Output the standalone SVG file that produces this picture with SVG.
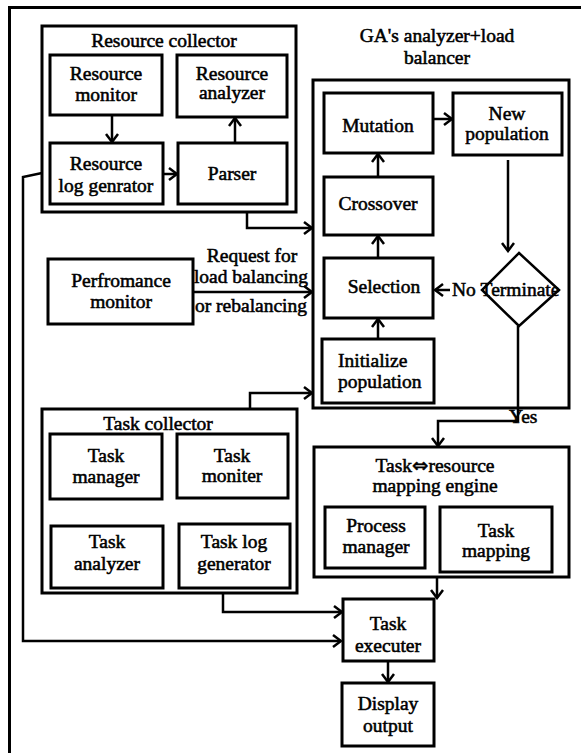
<svg xmlns="http://www.w3.org/2000/svg" width="581" height="753" viewBox="0 0 581 753">
<defs>
<style>
.b{fill:#fff;stroke:#000;stroke-width:3}
.c{fill:none;stroke:#000;stroke-width:2.5}
text{font-family:'Liberation Serif','Times New Roman',Tinos,'DejaVu Serif',serif;font-size:19.5px;fill:#000;stroke:#000;stroke-width:0.55px;text-anchor:middle}
.t{font-size:19.5px}
</style>
<marker id="a" markerUnits="userSpaceOnUse" markerWidth="12" markerHeight="14" viewBox="-10 -7 12 14" refX="0" refY="0" orient="auto">
<path d="M-8,-6 L0,0 L-8,6" fill="none" stroke="#000" stroke-width="2.5"/>
</marker>
</defs>
<rect width="581" height="753" fill="#fff"/>
<g id="frame">
<path d="M9.5,753 V7.5 H581" fill="none" stroke="#000" stroke-width="3"/>
</g>
<g font-family="Liberation Serif, serif">
<g id="resource-collector">
<rect class="b" x="42" y="26" width="254" height="186"/>
<text class="t" x="164" y="47">Resource collector</text>
</g>
<g id="resource-monitor">
<rect class="b" x="50" y="55" width="112" height="60"/>
<text x="106" y="80">Resource</text><text x="106" y="101">monitor</text>
</g>
<g id="resource-analyzer">
<rect class="b" x="177" y="55" width="110" height="62"/>
<text x="232" y="80">Resource</text><text x="232" y="99">analyzer</text>
</g>
<g id="resource-log">
<rect class="b" x="50" y="143" width="113" height="61"/>
<text x="106" y="170">Resource</text><text x="106" y="192">log genrator</text>
</g>
<g id="parser">
<rect class="b" x="178" y="143" width="109" height="61"/>
<text x="232" y="180">Parser</text>
</g>
<g id="ga">
<text class="t" x="437" y="42">GA's analyzer+load</text>
<text class="t" x="437" y="64">balancer</text>
<rect class="b" x="313" y="80" width="256" height="328"/>
</g>
<g id="mutation">
<rect class="b" x="324" y="93" width="109" height="60"/>
<text x="378" y="132">Mutation</text>
</g>
<g id="new-population">
<rect class="b" x="453" y="93" width="109" height="62"/>
<text x="507" y="120">New</text><text x="507" y="140">population</text>
</g>
<g id="crossover">
<rect class="b" x="324" y="177" width="109" height="58"/>
<text x="378" y="210">Crossover</text>
</g>
<g id="selection">
<rect class="b" x="324" y="258" width="109" height="60"/>
<text x="384" y="293">Selection</text>
</g>
<g id="initialize">
<rect class="b" x="322" y="339" width="112" height="64"/>
<text x="338" y="367" style="text-anchor:start">Initialize</text><text x="338" y="388" style="text-anchor:start">population</text>
</g>
<g id="terminate">
<polygon points="519,253 559,290 519,326 482,290" fill="#fff" stroke="#000" stroke-width="2.5"/>
<text x="520" y="296">Terminate</text>
</g>
<g id="performance-monitor">
<rect class="b" x="48" y="259" width="145" height="65"/>
<text x="121" y="287">Perfromance</text><text x="121" y="308">monitor</text>
</g>
<g id="task-collector">
<rect class="b" x="42" y="409" width="255" height="184"/>
<text class="t" x="158" y="430">Task collector</text>
</g>
<g id="task-manager">
<rect class="b" x="50" y="434" width="112" height="65"/>
<text x="106" y="462">Task</text><text x="106" y="483">manager</text>
</g>
<g id="task-moniter">
<rect class="b" x="177" y="434" width="111" height="64"/>
<text x="232" y="462">Task</text><text x="232" y="482">moniter</text>
</g>
<g id="task-analyzer">
<rect class="b" x="51" y="526" width="112" height="62"/>
<text x="107" y="548">Task</text><text x="107" y="570">analyzer</text>
</g>
<g id="task-log">
<rect class="b" x="179" y="524" width="111" height="64"/>
<text x="234" y="548">Task log</text><text x="234" y="570">generator</text>
</g>
<g id="mapping-engine">
<rect class="b" x="314" y="447" width="255" height="130"/>
<text class="t" x="435" y="472">Task<tspan style="font-family:'DejaVu Sans',sans-serif">⇔</tspan>resource</text>
<text class="t" x="435" y="492">mapping engine</text>
</g>
<g id="process-manager">
<rect class="b" x="325" y="507" width="100" height="61"/>
<text x="376" y="532">Process</text><text x="376" y="553">manager</text>
</g>
<g id="task-mapping">
<rect class="b" x="440" y="507" width="112" height="65"/>
<text x="496" y="537">Task</text><text x="496" y="557">mapping</text>
</g>
<g id="task-executer">
<rect class="b" x="343" y="599" width="91" height="62"/>
<text x="388" y="630">Task</text><text x="388" y="652">executer</text>
</g>
<g id="display-output">
<rect class="b" x="342" y="683" width="92" height="63"/>
<text x="388" y="710">Display</text><text x="388" y="732">output</text>
</g>
<g id="connectors">
<path class="c" d="M112,115 V142" marker-end="url(#a)"/>
<path class="c" d="M235,143 V118" marker-end="url(#a)"/>
<path class="c" d="M163,174 H177" marker-end="url(#a)"/>
<path class="c" d="M247,212 V228 H312" marker-end="url(#a)"/>
<path class="c" d="M42,173 L23,177 V641 H341" marker-end="url(#a)"/>
<path class="c" d="M193,292 H312" marker-end="url(#a)"/>
<path class="c" d="M250,409 V393 H312" marker-end="url(#a)"/>
<path class="c" d="M433,119 H452" marker-end="url(#a)"/>
<path class="c" d="M378,177 V154" marker-end="url(#a)"/>
<path class="c" d="M378,258 V236" marker-end="url(#a)"/>
<path class="c" d="M378,339 V319" marker-end="url(#a)"/>
<path class="c" d="M508,160 V251" marker-end="url(#a)"/>
<path class="c" d="M450,290 H435" marker-end="url(#a)"/>
<path class="c" d="M518,326 V421 H438 V446" marker-end="url(#a)"/>
<path class="c" d="M437,577 V598" marker-end="url(#a)"/>
<path class="c" d="M223,593 V612 H342" marker-end="url(#a)"/>
<path class="c" d="M388,661 V682" marker-end="url(#a)"/>
<text x="252" y="262">Request for</text>
<text x="251" y="283">load balancing</text>
<text x="251" y="312">or rebalancing</text>
<text x="452" y="296" style="text-anchor:start">No</text>
<text x="509" y="423" style="text-anchor:start">Yes</text>
</g>
</g>
</svg>
